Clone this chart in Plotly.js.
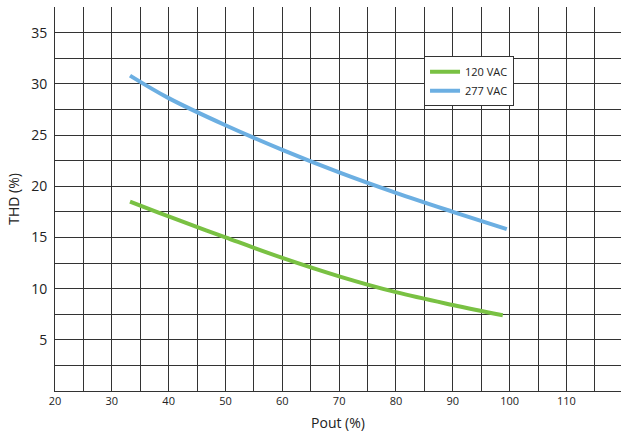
<!DOCTYPE html>
<html>
<head>
<meta charset="utf-8">
<script src="https://cdn.plot.ly/plotly-3.0.1.min.js"></script>
<style>html,body{margin:0;padding:0;background:#fff;}#chart{width:621px;height:438px;}</style>
</head>
<body>
<div id="chart"></div>
<script>
var pout120 = [33.2, 40, 50, 60, 70, 80, 90, 98.8];
var thd120 = [18.5, 17.05, 15.0, 13.0, 11.2, 9.65, 8.4, 7.4];
var pout277 = [33.2, 40, 50, 60, 70, 80, 90, 99.5];
var thd277 = [30.8, 28.6, 25.95, 23.55, 21.35, 19.35, 17.5, 15.8];
var seriesNames = ["120 VAC", "277 VAC"];
var xTicks = [20, 30, 40, 50, 60, 70, 80, 90, 100, 110];
var yTicks = [5, 10, 15, 20, 25, 30, 35];

var font = "Open Sans, Lato, sans-serif";
var gridColor = "#333";

var traces = [
  {x: pout120, y: thd120, name: seriesNames[0], mode: "lines",
   line: {color: "#79c143", width: 4, shape: "spline", smoothing: 1}},
  {x: pout277, y: thd277, name: seriesNames[1], mode: "lines",
   line: {color: "#6cafe2", width: 4, shape: "spline", smoothing: 1}}
];

var layout = {
  width: 621, height: 438,
  margin: {l: 55, r: 0, t: 7, b: 47, pad: 0},
  paper_bgcolor: "#fff", plot_bgcolor: "#fff",
  font: {family: font, color: "#222"},
  showlegend: true,
  legend: {x: 0.652, y: 0.872, xanchor: "left", yanchor: "top",
    bgcolor: "#fff", bordercolor: "#333", borderwidth: 1,
    font: {family: font, size: 11, color: "#222"},
    tracegroupgap: 0, itemwidth: 30},
  xaxis: {range: [20, 119.6], tickvals: xTicks, ticktext: xTicks.map(String),
    showgrid: true, gridcolor: gridColor, gridwidth: 1,
    minor: {dtick: 5, tick0: 0, showgrid: true, gridcolor: gridColor, gridwidth: 1},
    zeroline: false, showline: true, linecolor: gridColor, linewidth: 1,
    ticks: "", tickfont: {family: font, size: 11, color: "#222"},
    title: {text: "Pout (%)", font: {family: font, size: 14, color: "#222"}, standoff: 10}},
  yaxis: {range: [0, 37.5], tickvals: yTicks, ticktext: yTicks.map(String),
    showgrid: true, gridcolor: gridColor, gridwidth: 1,
    minor: {dtick: 2.5, tick0: 0, showgrid: true, gridcolor: gridColor, gridwidth: 1},
    zeroline: false, showline: true, linecolor: gridColor, linewidth: 1,
    ticks: "", ticklabelstandoff: 4, tickfont: {family: font, size: 14, color: "#222"},
    title: {text: "THD (%)", font: {family: font, size: 14, color: "#222"}, standoff: 8}}
};

Plotly.newPlot("chart", traces, layout, {displayModeBar: false, staticPlot: true});
</script>
</body>
</html>
